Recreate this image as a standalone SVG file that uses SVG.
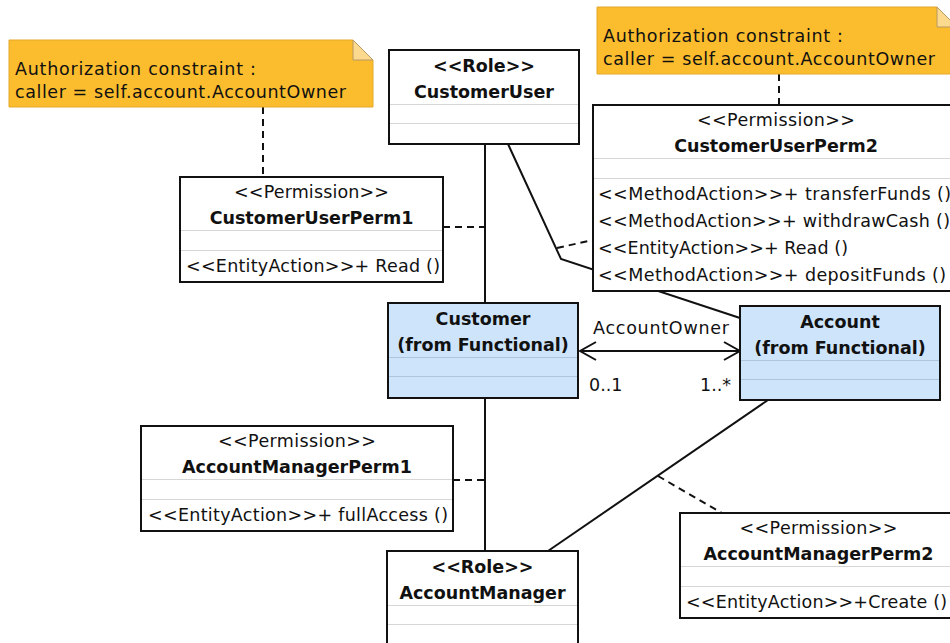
<svg xmlns="http://www.w3.org/2000/svg" width="950" height="643" viewBox="0 0 950 643">
<defs>
<style>
text { font-family: "DejaVu Sans", Verdana, sans-serif; font-size: 17.5px; fill: #111; }
.b { font-weight: bold; }
.c { text-anchor: middle; }
.box { fill: #fff; stroke: #111; stroke-width: 2; }
.cls { fill: #cde4fa; stroke: #111; stroke-width: 2; }
.sep { stroke: #d6d6d6; stroke-width: 1; }
.sepb { stroke: #aec6dc; stroke-width: 1; }
.note { fill: #fbbd2e; stroke: #e3a82a; stroke-width: 1; }
.fold { fill: #fbd98e; stroke: #b89a62; stroke-width: 1; }
.ln { fill: none; stroke: #111; stroke-width: 2; }
.dash { fill: none; stroke: #111; stroke-width: 2; stroke-dasharray: 7 5; }
</style>
<marker id="open" viewBox="0 0 20 20" markerWidth="20" markerHeight="20" refX="18" refY="10" markerUnits="userSpaceOnUse" orient="auto-start-reverse">
<path d="M2,1 L18,10 L2,19" fill="none" stroke="#111" stroke-width="2"/>
</marker>
</defs>
<rect width="950" height="643" fill="#fff"/>

<!-- connectors -->
<g id="connectors">
<path class="dash" d="M263,107 V177"/>
<path class="dash" d="M779,74 V105"/>
<path class="ln" d="M485,144 V303"/>
<path class="dash" d="M443,227 H485"/>
<path class="ln" d="M508,144 L561,259 L740,318"/>
<path class="dash" d="M557,248 L593,240"/>
<path class="ln" d="M580,351 H740" marker-start="url(#open)" marker-end="url(#open)"/>
<text x="661" y="334" class="c" textLength="136">AccountOwner</text>
<text x="589" y="391">0..1</text>
<text x="700" y="391">1..*</text>
<path class="ln" d="M485,398 V551"/>
<path class="dash" d="M453,480 H485"/>
<path class="ln" d="M768,400 L548,551"/>
<path class="dash" d="M658,476 L722,513"/>
</g>

<!-- constraint notes -->
<g id="note1">
<polygon class="note" points="9,40 353,40 373,60 373,107 9,107"/>
<polygon class="fold" points="353,40 353,60 373,60"/>
<text x="15" y="75" textLength="241">Authorization constraint :</text>
<text x="15" y="98" textLength="331">caller = self.account.AccountOwner</text>
</g>
<g id="note2">
<polygon class="note" points="597,7 937,7 957,27 957,74 597,74"/>
<polygon class="fold" points="937,7 937,27 957,27"/>
<text x="603" y="42" textLength="240">Authorization constraint :</text>
<text x="603" y="65" textLength="332">caller = self.account.AccountOwner</text>
</g>

<!-- roles -->
<g id="CustomerUser">
<rect class="box" x="389" y="50" width="190" height="94"/>
<line class="sep" x1="390" y1="104.5" x2="578" y2="104.5"/>
<line class="sep" x1="390" y1="123.5" x2="578" y2="123.5"/>
<text x="484" y="72" class="c b">&lt;&lt;Role&gt;&gt;</text>
<text x="484" y="98" class="c b">CustomerUser</text>
</g>
<g id="AccountManager">
<rect class="box" x="387" y="551" width="191" height="110"/>
<line class="sep" x1="388" y1="605.5" x2="577" y2="605.5"/>
<line class="sep" x1="388" y1="624.5" x2="577" y2="624.5"/>
<text x="482.5" y="573" class="c b">&lt;&lt;Role&gt;&gt;</text>
<text x="482.5" y="599" class="c b">AccountManager</text>
</g>

<!-- permissions -->
<g id="CustomerUserPerm1">
<rect class="box" x="180" y="177" width="263" height="105"/>
<line class="sep" x1="181" y1="230.5" x2="442" y2="230.5"/>
<line class="sep" x1="181" y1="250.5" x2="442" y2="250.5"/>
<text x="311.5" y="198" class="c" textLength="155">&lt;&lt;Permission&gt;&gt;</text>
<text x="311.5" y="224" class="c b">CustomerUserPerm1</text>
<text x="186" y="272" textLength="254">&lt;&lt;EntityAction&gt;&gt;+ Read ()</text>
</g>
<g id="CustomerUserPerm2">
<rect class="box" x="593" y="105" width="370" height="186"/>
<line class="sep" x1="594" y1="158.5" x2="962" y2="158.5"/>
<line class="sep" x1="594" y1="178.5" x2="962" y2="178.5"/>
<text x="776" y="126" class="c" textLength="158">&lt;&lt;Permission&gt;&gt;</text>
<text x="776" y="152" class="c b">CustomerUserPerm2</text>
<text x="598" y="200" textLength="353">&lt;&lt;MethodAction&gt;&gt;+ transferFunds ()</text>
<text x="598" y="227" textLength="352">&lt;&lt;MethodAction&gt;&gt;+ withdrawCash ()</text>
<text x="598" y="254" textLength="250">&lt;&lt;EntityAction&gt;&gt;+ Read ()</text>
<text x="598" y="281" textLength="348">&lt;&lt;MethodAction&gt;&gt;+ depositFunds ()</text>
</g>
<g id="AccountManagerPerm1">
<rect class="box" x="141" y="426" width="312" height="105"/>
<line class="sep" x1="142" y1="479.5" x2="452" y2="479.5"/>
<line class="sep" x1="142" y1="499.5" x2="452" y2="499.5"/>
<text x="297" y="447" class="c" textLength="158">&lt;&lt;Permission&gt;&gt;</text>
<text x="297" y="473" class="c b">AccountManagerPerm1</text>
<text x="148" y="521" textLength="300">&lt;&lt;EntityAction&gt;&gt;+ fullAccess ()</text>
</g>
<g id="AccountManagerPerm2">
<rect class="box" x="680" y="513" width="280" height="105"/>
<line class="sep" x1="681" y1="566.5" x2="959" y2="566.5"/>
<line class="sep" x1="681" y1="586.5" x2="959" y2="586.5"/>
<text x="818.5" y="534" class="c" textLength="158">&lt;&lt;Permission&gt;&gt;</text>
<text x="818.5" y="560" class="c b">AccountManagerPerm2</text>
<text x="686" y="608" textLength="261">&lt;&lt;EntityAction&gt;&gt;+Create ()</text>
</g>

<!-- functional classes -->
<g id="Customer">
<rect class="cls" x="388" y="303" width="190" height="95"/>
<line class="sepb" x1="389" y1="357.5" x2="577" y2="357.5"/>
<line class="sepb" x1="389" y1="376.5" x2="577" y2="376.5"/>
<text x="483" y="325" class="c b">Customer</text>
<text x="483" y="351" class="c b">(from Functional)</text>
</g>
<g id="Account">
<rect class="cls" x="740" y="306" width="200" height="94"/>
<line class="sepb" x1="741" y1="360.5" x2="939" y2="360.5"/>
<line class="sepb" x1="741" y1="379.5" x2="939" y2="379.5"/>
<text x="840" y="328" class="c b">Account</text>
<text x="840" y="354" class="c b">(from Functional)</text>
</g>
</svg>
